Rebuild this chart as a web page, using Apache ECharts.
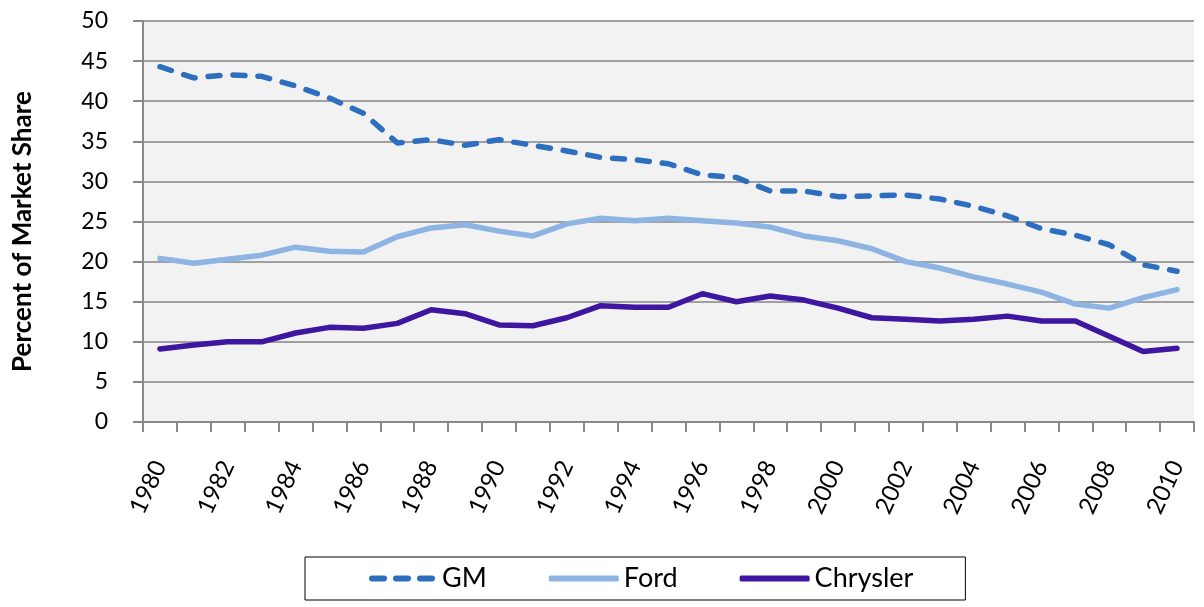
<!DOCTYPE html>
<html>
<head>
<meta charset="utf-8">
<script src="https://cdn.jsdelivr.net/npm/echarts@6/dist/echarts.min.js"></script>
<style>
    html,body{margin:0;padding:0;background:#fff;}
    #chart{width:1204px;height:607px;}
</style>
</head>
<body>
<div id="chart"></div>
<script>
    var years = [];
    for (var y = 1980; y <= 2010; y++) { years.push(String(y)); }
    var gm = [44.3,42.9,43.3,43.1,41.9,40.4,38.5,34.8,35.2,34.5,35.2,34.5,33.8,33.0,32.7,32.2,30.8,30.5,28.8,28.8,28.1,28.2,28.3,27.8,26.9,25.7,24.1,23.3,22.1,19.6,18.8];
    var ford = [20.4,19.8,20.3,20.8,21.8,21.3,21.2,23.1,24.2,24.6,23.8,23.2,24.7,25.4,25.1,25.4,25.1,24.8,24.3,23.2,22.6,21.6,20.0,19.2,18.1,17.2,16.2,14.7,14.2,15.5,16.5];
    var chrysler = [9.1,9.6,10.0,10.0,11.1,11.8,11.7,12.3,14.0,13.5,12.1,12.0,13.0,14.5,14.3,14.3,16.0,15.0,15.7,15.2,14.2,13.0,12.8,12.6,12.8,13.2,12.6,12.6,10.7,8.8,9.2];

    var font = 'Lato, "Open Sans", sans-serif';
    var chart = echarts.init(document.getElementById('chart'));
    chart.setOption({
        animation:false,
        grid:{left:143,right:10,top:21,bottom:185,show:true,backgroundColor:'#f2f2f2',borderWidth:0},
        legend:{
            left:305, top:557,
            padding:[8,52,8,64],
            itemGap:62,
            itemWidth:70, itemHeight:6,
            borderColor:'#000', borderWidth:1,
            textStyle:{fontFamily:font,fontSize:27,color:'#000'},
            data:[
                {name:'GM',icon:'path://M3,0H15A3,3 0 0 1 15,6H3A3,3 0 0 1 3,0Z M27,0H39A3,3 0 0 1 39,6H27A3,3 0 0 1 27,0Z M51,0H63A3,3 0 0 1 63,6H51A3,3 0 0 1 51,0Z'},
                {name:'Ford',icon:'roundRect'},
                {name:'Chrysler',icon:'roundRect'}
            ]
        },
        xAxis:{
            type:'category',
            data:years,
            boundaryGap:true,
            axisLine:{lineStyle:{color:'#888',width:2}},
            axisTick:{show:true,interval:0,length:10,lineStyle:{color:'#888',width:2}},
            axisLabel:{interval:1,rotate:65,fontFamily:font,fontSize:24,color:'#000',margin:40},
            splitLine:{show:false}
        },
        yAxis:{
            type:'value',
            min:0,max:50,interval:5,
            name:'Percent of Market Share',
            nameLocation:'middle',
            nameGap:107,
            nameTextStyle:{fontFamily:font,fontSize:26,fontWeight:'bold',color:'#000',padding:[0,20,0,0]},
            axisLine:{show:true,lineStyle:{color:'#888',width:2}},
            axisTick:{show:true,length:10,lineStyle:{color:'#888',width:2}},
            axisLabel:{fontFamily:font,fontSize:23,color:'#000',margin:35},
            splitLine:{lineStyle:{color:'#a0a0a0',width:2}}
        },
        series:[
            {name:'GM',type:'line',data:gm,symbol:'none',color:'#2e6ebe',
             lineStyle:{width:5.5,type:[12,13],cap:'round',color:'#2e6ebe'}},
            {name:'Ford',type:'line',data:ford,symbol:'none',color:'#8db4e2',
             lineStyle:{width:5.5,cap:'round',color:'#8db4e2'}},
            {name:'Chrysler',type:'line',data:chrysler,symbol:'none',color:'#3f16a0',
             lineStyle:{width:5.5,cap:'round',color:'#3f16a0'}}
        ]
    });
</script>
</body>
</html>
